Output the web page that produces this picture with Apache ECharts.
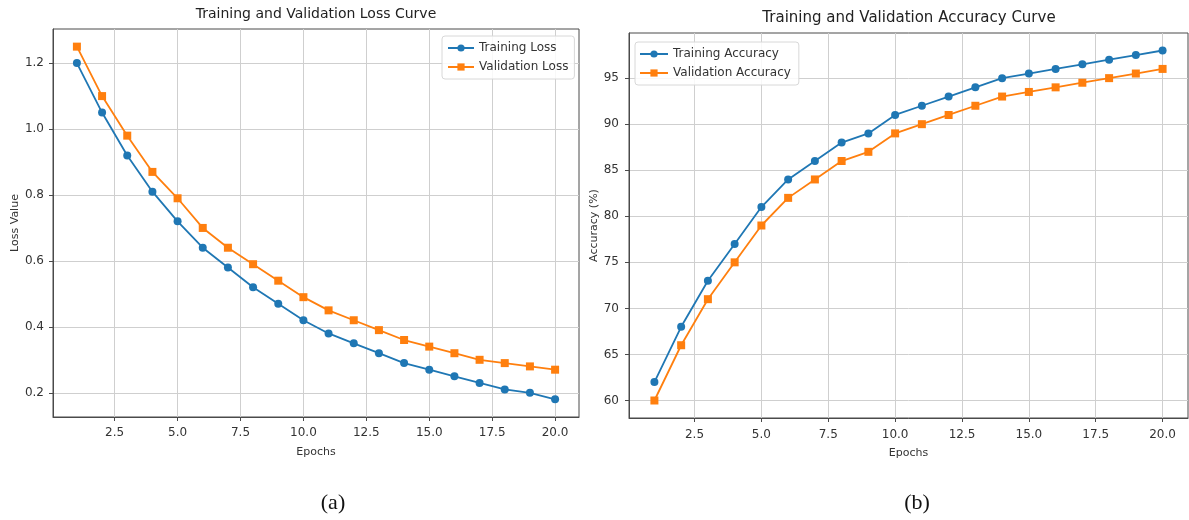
<!DOCTYPE html>
<html>
<head>
<meta charset="utf-8">
<title>Loss / Accuracy Curves</title>
<script src="https://cdn.jsdelivr.net/npm/echarts@6/dist/echarts.min.js"></script>
<style>
  html, body { margin: 0; padding: 0; background: #fff; }
  #myEchart { width: 1189px; height: 520px; }
</style>
</head>
<body>
<div id="myEchart"></div>
<script>
// data
var epochs = [1, 2, 3, 4, 5, 6, 7, 8, 9, 10, 11, 12, 13, 14, 15, 16, 17, 18, 19, 20];
var trainLoss = [1.20, 1.05, 0.92, 0.81, 0.72, 0.64, 0.58, 0.52, 0.47, 0.42, 0.38, 0.35, 0.32, 0.29, 0.27, 0.25, 0.23, 0.21, 0.20, 0.18];
var valLoss = [1.25, 1.10, 0.98, 0.87, 0.79, 0.70, 0.64, 0.59, 0.54, 0.49, 0.45, 0.42, 0.39, 0.36, 0.34, 0.32, 0.30, 0.29, 0.28, 0.27];
var trainAcc = [62, 68, 73, 77, 81, 84, 86, 88, 89, 91, 92, 93, 94, 95, 95.5, 96, 96.5, 97, 97.5, 98];
var valAcc = [60, 66, 71, 75, 79, 82, 84, 86, 87, 89, 90, 91, 92, 93, 93.5, 94, 94.5, 95, 95.5, 96];
// tick labels
var epochTicks = [2.5, 5, 7.5, 10, 12.5, 15, 17.5, 20];
var lossTicks = [0.2, 0.4, 0.6, 0.8, 1.0, 1.2];
var accTicks = [60, 65, 70, 75, 80, 85, 90, 95];

var blue = '#1f77b4';
var orange = '#ff7f0e';
var font = 'DejaVu Sans';

function pairs (ys) {
  return epochs.map(function (x, i) { return [x, ys[i]]; });
}

// matplotlib style axis (spines, grid, ticks outside)
function valueAxis (opt) {
  var ax = {
    type: 'value',
    gridIndex: opt.gridIndex,
    min: opt.min,
    max: opt.max,
    name: opt.name,
    nameLocation: 'middle',
    nameGap: opt.nameGap,
    nameTextStyle: {color: '#333', fontSize: 11, fontFamily: font},
    axisLine: {show: true, onZero: false, lineStyle: {color: '#4a4a4a', width: 1}},
    axisTick: {show: true, length: 4, lineStyle: {color: '#4a4a4a'}, customValues: opt.ticks},
    axisLabel: {
      color: '#333',
      fontSize: 12,
      fontFamily: font,
      margin: opt.margin,
      customValues: opt.ticks,
      formatter: opt.formatter
    },
    splitLine: {show: true, lineStyle: {color: '#cfcfcf', width: 1}}
  };
  return ax;
}

function fixed1 (v) { return v.toFixed(1); }
function whole (v) { return String(Math.round(v)); }

function lineSeries (name, data, symbol, size, x, y) {
  return {
    name: name,
    type: 'line',
    xAxisIndex: x,
    yAxisIndex: y,
    data: pairs(data),
    symbol: symbol,
    symbolSize: size,
    showSymbol: true,
    animation: false,
    lineStyle: {width: 1.8},
    itemStyle: {color: name.indexOf('Training') === 0 ? blue : orange}
  };
}

var chart = echarts.init(document.getElementById('myEchart'));
var option = {
  backgroundColor: '#fff',
  animation: false,
  title: [
    {
      text: 'Training and Validation Loss Curve',
      left: 316, top: 7, textAlign: 'center', padding: 0,
      textStyle: {fontSize: 14, fontWeight: 'normal', color: '#222', fontFamily: font}
    },
    {
      text: 'Training and Validation Accuracy Curve',
      left: 909, top: 11, textAlign: 'center', padding: 0,
      textStyle: {fontSize: 15, fontWeight: 'normal', color: '#222', fontFamily: font}
    },
    // figure captions under each panel
    {
      text: '(a)', left: 333, top: 492, textAlign: 'center', padding: 0,
      textStyle: {fontSize: 22, fontWeight: 'normal', color: '#111', fontFamily: 'Liberation Serif'}
    },
    {
      text: '(b)', left: 917, top: 492, textAlign: 'center', padding: 0,
      textStyle: {fontSize: 22, fontWeight: 'normal', color: '#111', fontFamily: 'Liberation Serif'}
    }
  ],
  legend: [
    {
      data: ['Training Loss', 'Validation Loss'],
      orient: 'vertical',
      left: 442, top: 36,
      padding: [6, 6, 6, 5],
      itemWidth: 26, itemHeight: 9, itemGap: 7,
      backgroundColor: 'rgba(255,255,255,0.85)',
      borderColor: '#d8d8d8', borderWidth: 1, borderRadius: 3,
      textStyle: {fontSize: 12, color: '#333', fontFamily: font}
    },
    {
      data: ['Training Accuracy', 'Validation Accuracy'],
      orient: 'vertical',
      left: 635, top: 42,
      padding: [6, 8, 6, 4],
      itemWidth: 28, itemHeight: 9, itemGap: 7,
      backgroundColor: 'rgba(255,255,255,0.85)',
      borderColor: '#d8d8d8', borderWidth: 1, borderRadius: 3,
      textStyle: {fontSize: 12, color: '#333', fontFamily: font}
    }
  ],
  grid: [
    {left: 53, right: 610, top: 29, bottom: 103, show: true, borderColor: '#4a4a4a', borderWidth: 1, backgroundColor: 'transparent'},
    {left: 629, right: 1, top: 33, bottom: 102, show: true, borderColor: '#4a4a4a', borderWidth: 1, backgroundColor: 'transparent'}
  ],
  xAxis: [
    valueAxis({gridIndex: 0, min: 0.05, max: 20.95, ticks: epochTicks, name: 'Epochs', nameGap: 30, margin: 10, formatter: fixed1}),
    valueAxis({gridIndex: 1, min: 0.05, max: 20.95, ticks: epochTicks, name: 'Epochs', nameGap: 30, margin: 11, formatter: fixed1})
  ],
  yAxis: [
    valueAxis({gridIndex: 0, min: 0.1265, max: 1.3035, ticks: lossTicks, name: 'Loss Value', nameGap: 31, margin: 9, formatter: fixed1}),
    valueAxis({gridIndex: 1, min: 58.1, max: 99.9, ticks: accTicks, name: 'Accuracy (%)', nameGap: 29, margin: 10, formatter: whole})
  ],
  series: [
    lineSeries('Training Loss', trainLoss, 'circle', 8, 0, 0),
    lineSeries('Validation Loss', valLoss, 'rect', 8, 0, 0),
    lineSeries('Training Accuracy', trainAcc, 'circle', 8, 1, 1),
    lineSeries('Validation Accuracy', valAcc, 'rect', 8, 1, 1)
  ]
};
chart.setOption(option);
</script>
</body>
</html>
